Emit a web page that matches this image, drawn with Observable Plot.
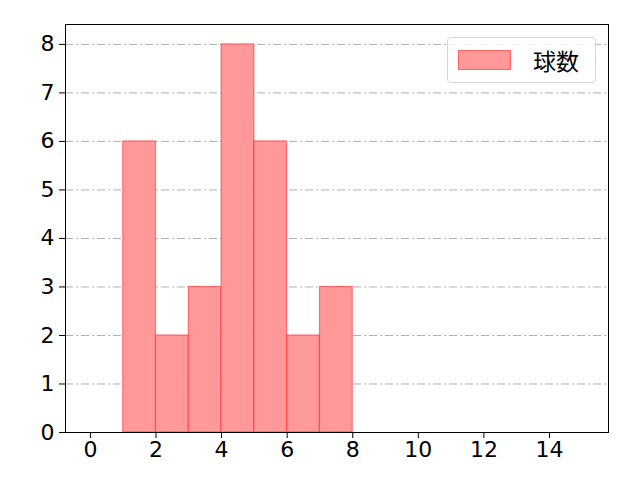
<!DOCTYPE html>
<html>
<head>
<meta charset="utf-8">
<script src="https://cdn.jsdelivr.net/npm/d3@7"></script>
<script src="https://cdn.jsdelivr.net/npm/@observablehq/plot@0.6"></script>
<style>
body { margin: 0; background: #fff; }
#chart { position: relative; width: 640px; height: 480px; }
#legend {
  position: absolute; left: 447px; top: 37px; width: 149px; height: 46px;
  border: 1px solid #d6d6d6; border-radius: 4px; background: rgba(255,255,255,0.8);
  box-sizing: border-box; font-family: "Noto Sans CJK JP", sans-serif; font-size: 23px;
}
#legend .sw { position: absolute; left: 10px; top: 12px; width: 53px; height: 20px; background: #ff9999; border: 1px solid rgba(255,0,0,0.35); box-sizing: border-box; }
#legend .lb { position: absolute; left: 85px; top: 6px; line-height: 32px; color: #000; }
</style>
</head>
<body>
<div id="chart"></div>
<script>
const binStart = [1, 2, 3, 4, 5, 6, 7];
const binEnd = [2, 3, 4, 5, 6, 7, 8];
const counts = [6, 2, 3, 8, 6, 2, 3];
const xTicks = [0, 2, 4, 6, 8, 10, 12, 14];
const yTicks = [0, 1, 2, 3, 4, 5, 6, 7, 8];
const seriesName = "球数";

const data = binStart.map((s, i) => ({x1: s, x2: binEnd[i], y: counts[i]}));
const gridY = yTicks.filter(t => t > 0);

const chart = Plot.plot({
  width: 640,
  height: 480,
  marginLeft: 65,
  marginRight: 32,
  marginTop: 24,
  marginBottom: 48,
  style: {fontFamily: "'DejaVu Sans', sans-serif", fontSize: "22px", background: "white", color: "black"},
  x: {domain: [-0.76, 15.8], ticks: xTicks, tickSize: 6, tickPadding: 3, label: null, tickFormat: d => String(d)},
  y: {domain: [0, 8.41], ticks: yTicks, tickSize: 6, tickPadding: 5, label: null, tickFormat: d => String(d)},
  marks: [
    Plot.ruleY(gridY, {stroke: "#b0b0b0", strokeWidth: 1, strokeDasharray: "8,3,2,3"}),
    Plot.rectY(data, {x1: "x1", x2: "x2", y: "y", fill: "#ff9999", stroke: "red", strokeOpacity: 0.45, strokeWidth: 1.2, inset: 0}),
    Plot.frame({stroke: "black", strokeWidth: 1})
  ]
});
document.getElementById("chart").appendChild(chart);
const leg = document.createElement("div");
leg.id = "legend";
leg.innerHTML = `<div class="sw"></div><div class="lb">${seriesName}</div>`;
document.getElementById("chart").appendChild(leg);
</script>
</body>
</html>
